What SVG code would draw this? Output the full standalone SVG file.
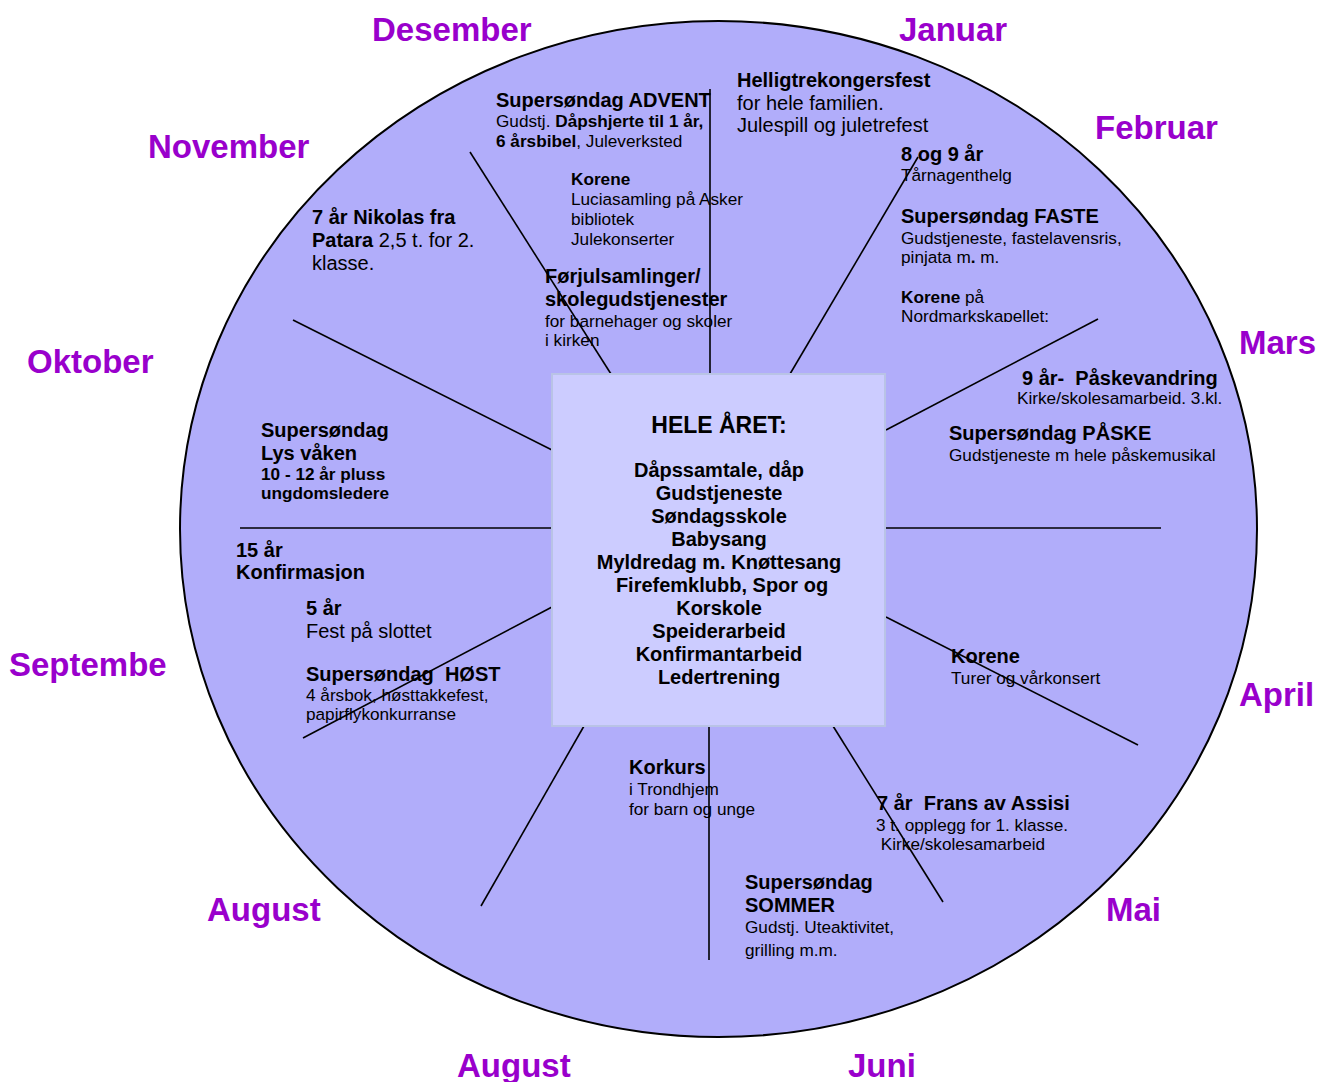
<svg xmlns="http://www.w3.org/2000/svg" width="1330" height="1082" viewBox="0 0 1330 1082">
<style>
text{font-family:"Liberation Sans",Arial,sans-serif;fill:#000}
.m{font-size:33px;font-weight:bold;fill:#9900cc}
.h{font-size:20px;font-weight:bold}
.r{font-size:20px}
.s{font-size:17.2px}
.sb{font-size:17.2px;font-weight:bold}
.b{font-weight:bold}
.c{font-size:20px;font-weight:bold;text-anchor:middle}
.spoke{stroke:#000;stroke-width:1.6;fill:none}
</style>
<defs>
<clipPath id="clipNord"><rect x="880" y="280" width="300" height="42"/></clipPath>
<clipPath id="clipKonf"><rect x="220" y="530" width="200" height="51"/></clipPath>
</defs>
<rect width="1330" height="1082" fill="#fff"/>
<g id="wheel">
<ellipse cx="718.5" cy="529" rx="538.5" ry="508" fill="#b1adfa" stroke="#000" stroke-width="2"/>
</g>
<g id="months">
<text class="m" x="372" y="41">Desember</text>
<text class="m" x="899" y="41">Januar</text>
<text class="m" x="1095" y="139">Februar</text>
<text class="m" x="148" y="158">November</text>
<text class="m" x="1239" y="354">Mars</text>
<text class="m" x="27" y="373">Oktober</text>
<text class="m" x="9" y="676">Septembe</text>
<text class="m" x="1239" y="706">April</text>
<text class="m" x="207" y="921">August</text>
<text class="m" x="1106" y="921">Mai</text>
<text class="m" x="457" y="1077">August</text>
<text class="m" x="848" y="1077">Juni</text>
</g>
<g id="desember-advent">
<text class="h" x="496" y="107">Supersøndag ADVENT</text>
<text class="s" x="496" y="127">Gudstj. <tspan class="b">Dåpshjerte til 1 år,</tspan></text>
<text class="s" x="496" y="147"><tspan class="b">6 årsbibel</tspan>, Juleverksted</text>
</g>
<g id="desember-korene">
<text class="sb" x="571" y="185">Korene</text>
<text class="s" x="571" y="205">Luciasamling på Asker</text>
<text class="s" x="571" y="225">bibliotek</text>
<text class="s" x="571" y="245">Julekonserter</text>
</g>
<g id="desember-forjul">
<text class="h" x="545" y="283">Førjulsamlinger/</text>
<text class="h" x="545" y="306">skolegudstjenester</text>
<text class="s" x="545" y="327">for barnehager og skoler</text>
<text class="s" x="545" y="346">i kirken</text>
</g>
<g id="januar">
<text class="h" x="737" y="87">Helligtrekongersfest</text>
<text class="r" x="737" y="110">for hele familien.</text>
<text class="r" x="737" y="132">Julespill og juletrefest</text>
</g>
<g id="februar">
<text class="h" x="901" y="161">8 og 9 år</text>
<text class="s" x="901" y="181">Tårnagenthelg</text>
<text class="h" x="901" y="223">Supersøndag FASTE</text>
<text class="s" x="901" y="244">Gudstjeneste, fastelavensris,</text>
<text class="s" x="901" y="263">pinjata m<tspan class="b">.</tspan> m.</text>
<text class="s" x="901" y="303"><tspan class="b">Korene</tspan> på</text>
<text class="s" x="901" y="322" clip-path="url(#clipNord)">Nordmarkskapellet:</text>
</g>
<g id="november">
<text class="h" x="312" y="224">7 år Nikolas fra</text>
<text class="r" x="312" y="247"><tspan class="b">Patara</tspan> 2,5 t. for 2.</text>
<text class="r" x="312" y="270">klasse.</text>
</g>
<g id="oktober">
<text class="h" x="261" y="437">Supersøndag</text>
<text class="h" x="261" y="460">Lys våken</text>
<text class="sb" x="261" y="480">10 - 12 år pluss</text>
<text class="sb" x="261" y="499">ungdomsledere</text>
</g>
<g id="september-konf" clip-path="url(#clipKonf)">
<text class="h" x="236" y="557">15 år</text>
<text class="h" x="236" y="579">Konfirmasjon</text>
</g>
<g id="september">
<text class="h" x="306" y="615">5 år</text>
<text class="r" x="306" y="638">Fest på slottet</text>
<text class="h" x="306" y="681" xml:space="preserve">Supersøndag  HØST</text>
<text class="s" x="306" y="701">4 årsbok, høsttakkefest,</text>
<text class="s" x="306" y="720">papirflykonkurranse</text>
</g>
<g id="mars">
<text class="h" x="1022" y="385" xml:space="preserve">9 år-  Påskevandring</text>
<text class="s" x="1017" y="404">Kirke/skolesamarbeid. 3.kl.</text>
<text class="h" x="949" y="440">Supersøndag PÅSKE</text>
<text class="s" x="949" y="461">Gudstjeneste m hele påskemusikal</text>
</g>
<g id="april">
<text class="h" x="951" y="663">Korene</text>
<text class="s" x="951" y="684">Turer og vårkonsert</text>
</g>
<g id="juni-korkurs">
<text class="h" x="629" y="774">Korkurs</text>
<text class="s" x="629" y="795">i Trondhjem</text>
<text class="s" x="629" y="815">for barn og unge</text>
</g>
<g id="mai">
<text class="h" x="877" y="810" xml:space="preserve">7 år  Frans av Assisi</text>
<text class="s" x="876" y="831">3 t. opplegg for 1. klasse.</text>
<text class="s" x="876" y="850" xml:space="preserve"> Kirke/skolesamarbeid</text>
</g>
<g id="juni-sommer">
<text class="h" x="745" y="889">Supersøndag</text>
<text class="h" x="745" y="912">SOMMER</text>
<text class="s" x="745" y="933">Gudstj. Uteaktivitet,</text>
<text class="s" x="745" y="956">grilling m.m.</text>
</g>
<g id="connectors">
<line class="spoke" x1="710" y1="89" x2="710" y2="374"/>
<line class="spoke" x1="470" y1="152" x2="611" y2="374"/>
<line class="spoke" x1="918" y1="157" x2="790" y2="374"/>
<line class="spoke" x1="1098" y1="319" x2="886" y2="430"/>
<line class="spoke" x1="886" y1="528" x2="1161" y2="528"/>
<line class="spoke" x1="886" y1="617" x2="1138" y2="745"/>
<line class="spoke" x1="833" y1="726" x2="943" y2="902"/>
<line class="spoke" x1="709" y1="726" x2="709" y2="960"/>
<line class="spoke" x1="584" y1="726" x2="481" y2="906"/>
<line class="spoke" x1="552" y1="607" x2="303" y2="738"/>
<line class="spoke" x1="240" y1="528" x2="552" y2="528"/>
<line class="spoke" x1="293" y1="320" x2="552" y2="450"/>
</g>
<g id="hele-aret">
<rect x="552" y="374" width="333" height="352" fill="#ccccff" stroke="#b9c3e6" stroke-width="2"/>
<text class="c" x="719" y="433" style="font-size:23px">HELE ÅRET:</text>
<text class="c" x="719" y="477">Dåpssamtale, dåp</text>
<text class="c" x="719" y="500">Gudstjeneste</text>
<text class="c" x="719" y="523">Søndagsskole</text>
<text class="c" x="719" y="546">Babysang</text>
<text class="c" x="719" y="569">Myldredag m. Knøttesang</text>
<text class="c" x="722" y="592">Firefemklubb, Spor og</text>
<text class="c" x="719" y="615">Korskole</text>
<text class="c" x="719" y="638">Speiderarbeid</text>
<text class="c" x="719" y="661">Konfirmantarbeid</text>
<text class="c" x="719" y="684">Ledertrening</text>
</g>
</svg>
